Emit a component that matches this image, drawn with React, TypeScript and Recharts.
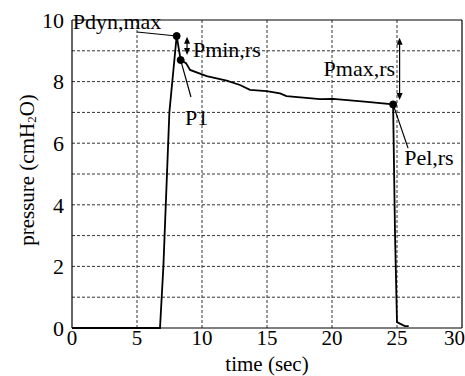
import React from 'react';
import { LineChart, Line, XAxis, YAxis, ReferenceLine, ReferenceDot, Label } from 'recharts';

// pressure trace
const timeSec = [0, 6.77, 7.03, 7.49, 8.05, 8.36, 8.77, 9.08, 10.36, 11.9, 12.92, 13.69, 14.98, 16.0, 16.5, 19.08, 20.08, 22.5, 24.7, 24.85, 25.0, 25.6, 25.9];
const pressure = [0, 0, 2.0, 7.0, 9.48, 8.7, 8.6, 8.38, 8.18, 8.03, 7.89, 7.73, 7.69, 7.62, 7.53, 7.43, 7.44, 7.35, 7.26, 3.0, 0.19, 0.06, 0.06];

const xTicks = [0, 5, 10, 15, 20, 25, 30];
const yTicks = [0, 2, 4, 6, 8, 10];
const xGrid = [5, 10, 15, 20, 25];
const yGrid = [1, 2, 3, 4, 5, 6, 7, 8, 9];

// marked points: Pdyn,max / P1 / Pel,rs
const markT = [8.05, 8.36, 24.7];
const markP = [9.48, 8.7, 7.26];

const labelText = ['Pdyn,max', 'Pmin,rs', 'Pmax,rs', 'P1', 'Pel,rs'];
const labelT = [0.05, 9.3, 24.85, 8.7, 25.55];
const labelP = [9.94, 9.03, 8.44, 6.85, 5.52];
const labelAnchor = ['start', 'start', 'end', 'start', 'start'];

// leader lines [t1, p1, t2, p2]
const leaders = [
  [5.0, 9.61, 8.05, 9.48],
  [8.36, 8.7, 9.15, 7.5],
  [24.7, 7.26, 25.85, 5.84],
];
// double arrows [t, pTop, pBottom]
const arrows = [
  [8.85, 9.46, 8.86],
  [25.2, 9.42, 7.4],
];

const data = timeSec.map((t, i) => ({ t, p: pressure[i] }));

const FONT = '"Liberation Serif", "Times New Roman", serif';
const textStyle = { fontFamily: FONT, fontSize: 22, fill: '#000' };
const tickStyle = { fontFamily: FONT, fontSize: 21, fill: '#000' };

const DoubleArrow = (props: any) => {
  const { x1, y1, x2, y2 } = props;
  const top = Math.min(y1, y2);
  const bot = Math.max(y1, y2);
  const x = x1;
  const h = 7;
  const w = 3;
  return (
    <g>
      <line x1={x} y1={top + h - 1} x2={x} y2={bot - h + 1} stroke="#000" strokeWidth={1.2} />
      <polygon points={`${x},${top} ${x - w},${top + h} ${x + w},${top + h}`} fill="#000" />
      <polygon points={`${x},${bot} ${x - w},${bot - h} ${x + w},${bot - h}`} fill="#000" />
    </g>
  );
};

const YLabel = (props: any) => {
  const vb = props.viewBox || {};
  const cy = (vb.y || 20) + (vb.height || 308) / 2 - 4;
  return (
    <text
      transform={`translate(27, ${cy}) rotate(-90)`}
      textAnchor="middle"
      dominantBaseline="central"
      style={{ ...textStyle, fontSize: 21 }}
    >
      pressure (cmH
      <tspan style={{ fontSize: 13 }} dy={4}>2</tspan>
      <tspan dy={-4}>O)</tspan>
    </text>
  );
};

export default function App() {
  return (
    <div style={{ position: 'absolute', left: 0, top: 0, background: '#fff' }}>
      <LineChart width={465} height={376} data={data} margin={{ top: 20, right: 3, bottom: 0, left: 0 }}>
        <XAxis
          dataKey="t"
          type="number"
          domain={[0, 30]}
          ticks={xTicks}
          height={48}
          tickSize={0}
          tickMargin={2}
          axisLine={{ stroke: '#000', strokeWidth: 1.2 }}
          tick={{ style: tickStyle, fontSize: 21, fill: '#000' }}
        >
          <Label value="time (sec)" position="insideBottom" offset={5} style={{ ...textStyle, fontSize: 21 }} />
        </XAxis>
        <YAxis
          type="number"
          domain={[0, 10]}
          ticks={yTicks}
          width={72}
          tickSize={0}
          tickMargin={8}
          axisLine={{ stroke: '#000', strokeWidth: 1.2 }}
          tick={{ style: textStyle, fontSize: 22, fill: '#000' }}
        >
          <Label content={<YLabel />} />
        </YAxis>
        {xGrid.map(x => (
          <ReferenceLine key={'gx' + x} x={x} stroke="#333" strokeDasharray="3 2" />
        ))}
        {yGrid.map(y => (
          <ReferenceLine key={'gy' + y} y={y} stroke="#333" strokeDasharray="3 2" />
        ))}
        <ReferenceLine y={10} stroke="#000" strokeWidth={1.2} />
        <ReferenceLine x={30} stroke="#000" strokeWidth={1.2} />
        <Line
          dataKey="p"
          type="linear"
          stroke="#000"
          strokeWidth={1.8}
          dot={false}
          isAnimationActive={false}
        />
        {leaders.map((l, i) => (
          <ReferenceLine
            key={'ld' + i}
            segment={[{ x: l[0], y: l[1] }, { x: l[2], y: l[3] }]}
            stroke="#000"
            strokeWidth={1.2}
          />
        ))}
        {arrows.map((a, i) => (
          <ReferenceLine
            key={'ar' + i}
            segment={[{ x: a[0], y: a[1] }, { x: a[0], y: a[2] }]}
            shape={<DoubleArrow />}
          />
        ))}
        {markT.map((t, i) => (
          <ReferenceDot key={'mk' + i} x={t} y={markP[i]} r={3.5} fill="#000" stroke="#000" />
        ))}
        {labelText.map((txt, i) => (
          <ReferenceDot
            key={'lb' + i}
            x={labelT[i]}
            y={labelP[i]}
            r={0}
            shape={(p: any) => (
              <text
                x={p.cx}
                y={p.cy}
                textAnchor={labelAnchor[i] as any}
                dominantBaseline="central"
                style={textStyle}
              >
                {txt}
              </text>
            )}
          />
        ))}
      </LineChart>
    </div>
  );
}
